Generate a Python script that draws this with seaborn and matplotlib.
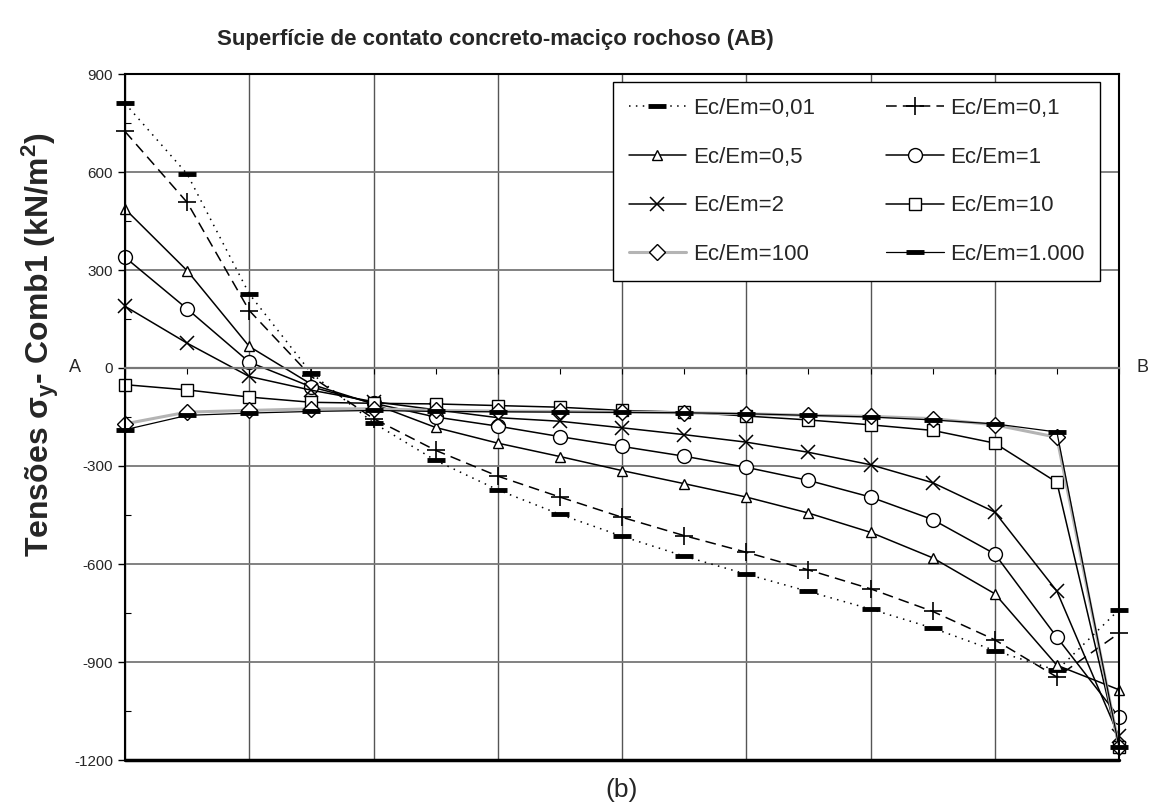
import numpy as np
import pandas as pd
import matplotlib
matplotlib.use("Agg")
import matplotlib.pyplot as plt
from matplotlib.ticker import MultipleLocator
import seaborn as sns

sns.set_style("white")
plt.rcParams['font.family'] = ['Liberation Sans', 'DejaVu Sans']
plt.rcParams['mathtext.fontset'] = 'custom'
plt.rcParams['mathtext.rm'] = 'Liberation Sans:bold'
plt.rcParams['mathtext.it'] = 'Liberation Sans:bold'
plt.rcParams['mathtext.bf'] = 'Liberation Sans:bold'

# ---- data ----
station = list(range(17))
labels = ["Ec/Em=0,01", "Ec/Em=0,1", "Ec/Em=0,5", "Ec/Em=1",
          "Ec/Em=2", "Ec/Em=10", "Ec/Em=100", "Ec/Em=1.000"]
s001 = [810, 594, 227, -16, -168, -283, -373, -448, -515, -576, -631, -684, -738, -796, -865, -926, -740]
s01 = [724, 507, 176, -26, -155, -252, -331, -395, -457, -513, -564, -618, -676, -745, -832, -946, -812]
s05 = [487, 298, 66, -50, -110, -182, -230, -271, -314, -354, -395, -444, -503, -581, -691, -910, -985]
s1 = [339, 181, 18, -58, -108, -150, -178, -210, -240, -270, -304, -344, -395, -464, -569, -824, -1069]
s2 = [189, 76, -26, -68, -103, -128, -152, -163, -183, -204, -227, -258, -296, -351, -441, -683, -1128]
s10 = [-51, -67, -89, -105, -108, -110, -115, -120, -130, -135, -147, -159, -174, -191, -230, -350, -1160]
s100 = [-171, -135, -130, -125, -125, -130, -132, -133, -135, -137, -140, -145, -148, -155, -174, -212, -1160]
s1000 = [-189, -145, -138, -133, -130, -133, -134, -135, -136, -137, -140, -145, -150, -159, -171, -196, -1161]
series = [s001, s01, s05, s1, s2, s10, s100, s1000]
yticks = [900, 600, 300, 0, -300, -600, -900, -1200]

styles = [
    dict(color='black', linestyle=(0, (1, 3.5)), linewidth=1.1, marker='_', markersize=13, markeredgewidth=3.5),
    dict(color='black', linestyle=(0, (7, 4)), linewidth=1.1, marker='+', markersize=13, markeredgewidth=1.2),
    dict(color='black', linestyle='-', linewidth=1.1, marker='^', markersize=6.5, markeredgewidth=1.0),
    dict(color='black', linestyle='-', linewidth=1.1, marker='o', markersize=10, markeredgewidth=1.0),
    dict(color='black', linestyle='-', linewidth=1.1, marker='x', markersize=10, markeredgewidth=1.1),
    dict(color='black', linestyle='-', linewidth=1.1, marker='s', markersize=9, markeredgewidth=1.0),
    dict(color='#b4b4b4', linestyle='-', linewidth=2.2, marker='D', markersize=8, markeredgewidth=1.0),
    dict(color='black', linestyle='-', linewidth=0.9, marker='_', markersize=13, markeredgewidth=3.5),
]

fig = plt.figure(figsize=(11.52, 8.10), dpi=100)
ax = fig.add_axes([125/1152, 1 - 760/810, 994/1152, 686/810])

for lab, vals, st in zip(labels, series, styles):
    df = pd.DataFrame({"x": station, "y": vals})
    sns.lineplot(data=df, x="x", y="y", ax=ax, label=lab, clip_on=False,
                 markerfacecolor='white', markeredgecolor='black', **st)

ax.set_xlim(0, 16)
ax.set_ylim(-1200, 900)
ax.set_xlabel("")
ax.set_ylabel("Tensões $\\sigma_y$- Comb1 (kN/m$^2$)", fontsize=23, fontweight='bold')
ax.yaxis.set_label_coords(-0.064, 0.605)

ax.set_yticks(yticks)
ax.set_yticklabels([str(v) for v in yticks], fontsize=11)
ax.yaxis.set_minor_locator(MultipleLocator(150))
ax.tick_params(axis='y', which='major', direction='out', length=5, width=1, color='black', left=True)
ax.tick_params(axis='y', which='minor', direction='in', length=4, width=0.8, color='black', left=True)

ax.set_xticks(list(range(0, 17, 2)))
ax.set_xticks(list(range(1, 17, 2)), minor=True)
ax.set_xticklabels([])
ax.tick_params(axis='x', which='both', direction='out', length=4, width=0.8, color='black', bottom=True)

ax.spines['bottom'].set_position(('data', 0))
ax.spines['bottom'].set_color('#777777')
ax.spines['bottom'].set_linewidth(1.6)
for sp in ['left', 'right', 'top']:
    ax.spines[sp].set_color('black')
    ax.spines[sp].set_linewidth(1.5)
ax.axhline(-1200, color='black', linewidth=2.5, clip_on=False, zorder=5)

ax.grid(True, which='major', axis='x', color='#555555', linewidth=1.0)
ax.grid(True, which='major', axis='y', color='#777777', linewidth=1.3)
ax.set_axisbelow(True)

handles, labs = ax.get_legend_handles_labels()
order = [0, 2, 4, 6, 1, 3, 5, 7]
leg = ax.legend([handles[i] for i in order], [labs[i] for i in order],
                loc='upper left', bbox_to_anchor=(0.491, 0.988, 0.49, 0.0), mode='expand',
                ncol=2, fontsize=16, frameon=True, fancybox=False, framealpha=1,
                edgecolor='black', labelspacing=1.25, handlelength=2.6, handletextpad=0.3,
                borderpad=0.7, borderaxespad=0.0)
leg.get_frame().set_linewidth(1.0)

fig.text(495/1152, 1 - 40/810, "Superfície de contato concreto-maciço rochoso (AB)",
         ha='center', va='center', fontsize=16, fontweight='bold')
fig.text(75/1152, 1 - 367/810, "A", ha='center', va='center', fontsize=13)
fig.text(1143/1152, 1 - 367/810, "B", ha='center', va='center', fontsize=13)
fig.text(622/1152, 1 - 790/810, "(b)", ha='center', va='center', fontsize=19)

fig.savefig("out.png", dpi=100)
